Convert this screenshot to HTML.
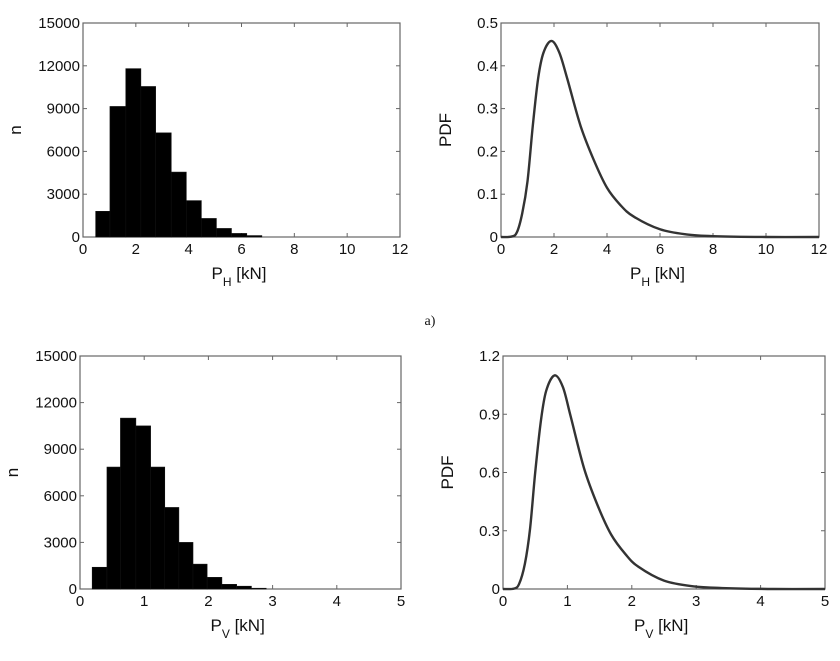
<!DOCTYPE html>
<html><head><meta charset="utf-8"><style>
html,body{margin:0;padding:0;background:#fff}
svg{display:block}
text{font-family:"Liberation Sans",Arial,sans-serif;fill:#111}
</style></head><body>
<svg id="fig" width="840" height="661" viewBox="0 0 840 661">
<text x="430" y="325" style="font-family:'Liberation Serif',serif;font-size:14px" text-anchor="middle">a)</text>
</svg>
<script>
// ---- data ----
const histHEdges = [0.48,1.02,1.62,2.19,2.75,3.34,3.91,4.48,5.05,5.62,6.2,6.77];
const histHCounts = [1800,9150,11800,10550,7300,4550,2550,1300,600,250,100];
const histVEdges = [0.19,0.42,0.63,0.87,1.1,1.32,1.54,1.76,1.98,2.21,2.44,2.67,2.9];
const histVCounts = [1400,7850,11000,10500,7850,5250,3000,1600,750,300,180,50];
const pdfHX = [0,0.4,0.6,0.8,1.0,1.2,1.4,1.6,1.9,2.2,2.5,3,3.5,4,4.5,5,6,7,8,10,12];
const pdfHY = [0,0.001,0.011,0.055,0.13,0.26,0.37,0.43,0.458,0.431,0.37,0.26,0.18,0.115,0.075,0.048,0.018,0.006,0.002,0,0];
const pdfVX = [0,0.17,0.25,0.34,0.42,0.5,0.59,0.67,0.8,0.93,1.05,1.26,1.47,1.68,1.9,2.1,2.5,2.95,3.4,4.2,5];
const pdfVY = [0,0.002,0.026,0.13,0.31,0.6,0.87,1.02,1.1,1.04,0.89,0.62,0.43,0.28,0.18,0.115,0.043,0.014,0.005,0,0];
const ticksHX = [0,2,4,6,8,10,12];
const ticksVX = [0,1,2,3,4,5];
const ticksN = [0,3000,6000,9000,12000,15000];
const ticksPdfH = [0,0.1,0.2,0.3,0.4,0.5];
const ticksPdfV = [0,0.3,0.6,0.9,1.2];

const svg = document.getElementById('fig');
const NS = 'http://www.w3.org/2000/svg';
function mk(tag, attrs){const e=document.createElementNS(NS,tag);for(const k in attrs)e.setAttribute(k,attrs[k]);svg.appendChild(e);return e;}

function axes(id, box, xmax, ymax, xt, yt, ylabel, sub){
  const sx = v => box.x0 + (box.x1-box.x0)*v/xmax;
  const sy = v => box.y0 - (box.y0-box.y1)*v/ymax;
  const frame = mk('rect',{x:box.x0,y:box.y1,width:box.x1-box.x0,height:box.y0-box.y1,fill:'none',stroke:'#666','stroke-width':1.2});
  
  
  xt.forEach(v=>{
    const x=sx(v);
    mk('line',{x1:x,x2:x,y1:box.y0,y2:box.y0-4,stroke:'#666'});
    mk('line',{x1:x,x2:x,y1:box.y1,y2:box.y1+4,stroke:'#666'});
    const t=mk('text',{x:x,y:box.y0+17,'font-size':15,'text-anchor':'middle'});t.textContent=v;
    
    
  });
  yt.forEach(v=>{
    const y=sy(v);
    mk('line',{x1:box.x0,x2:box.x0+4,y1:y,y2:y,stroke:'#666'});
    mk('line',{x1:box.x1,x2:box.x1-4,y1:y,y2:y,stroke:'#666'});
    const t=mk('text',{x:box.x0-3,y:y+5,'font-size':15,'text-anchor':'end'});t.textContent=v;
    
    
  });
  const cx=(box.x0+box.x1)/2;
  const xl=mk('text',{x:cx-30,y:box.y0+42,'font-size':17});
  xl.innerHTML='P<tspan dy="7" font-size="12">'+sub+'</tspan><tspan dy="-7"> [kN]</tspan>';
  
  
  const yl=mk('text',{x:0,y:0,'font-size':17,'text-anchor':'middle',transform:'translate('+(box.x0-(ylabel==='n'?62:50))+','+((box.y0+box.y1)/2)+') rotate(-90)'});
  yl.textContent=ylabel;
  
  
  return {sx,sy};
}

function hist(id, box, xmax, ymax, xt, yt, edges, counts, sub){
  const a=axes(id,box,xmax,ymax,xt,yt,'n',sub);
  counts.forEach((c,i)=>{
    const r=mk('rect',{x:a.sx(edges[i]),y:a.sy(c),width:a.sx(edges[i+1])-a.sx(edges[i]),height:a.sy(0)-a.sy(c),fill:'#000',stroke:'#111','stroke-width':0.6});
    
    
  });
}
function curve(id, box, xmax, ymax, xt, yt, xs, ys, sub){
  const a=axes(id,box,xmax,ymax,xt,yt,'PDF',sub);
  const P=xs.map((x,i)=>[a.sx(x),a.sy(ys[i])]);
  let d='M'+P[0][0]+','+P[0][1];
  for(let i=0;i<P.length-1;i++){
    const p0=P[Math.max(0,i-1)],p1=P[i],p2=P[i+1],p3=P[Math.min(P.length-1,i+2)];
    const c1=[p1[0]+(p2[0]-p0[0])/6,p1[1]+(p2[1]-p0[1])/6];
    const c2=[p2[0]-(p3[0]-p1[0])/6,p2[1]-(p3[1]-p1[1])/6];
    d+=' C'+c1+' '+c2+' '+p2;
  }
  const path=mk('path',{d:d,fill:'none',stroke:'#333','stroke-width':2.4,'stroke-linejoin':'round'});
  
  
}

hist('hist-ph',{x0:83,x1:400,y0:237,y1:23},12,15000,ticksHX,ticksN,histHEdges,histHCounts,'H');
curve('pdf-ph',{x0:501,x1:819,y0:237,y1:23},12,0.5,ticksHX,ticksPdfH,pdfHX,pdfHY,'H');
hist('hist-pv',{x0:80,x1:401,y0:589,y1:356},5,15000,ticksVX,ticksN,histVEdges,histVCounts,'V');
curve('pdf-pv',{x0:503,x1:825,y0:589,y1:356},5,1.2,ticksVX,ticksPdfV,pdfVX,pdfVY,'V');
</script>
</body></html>
